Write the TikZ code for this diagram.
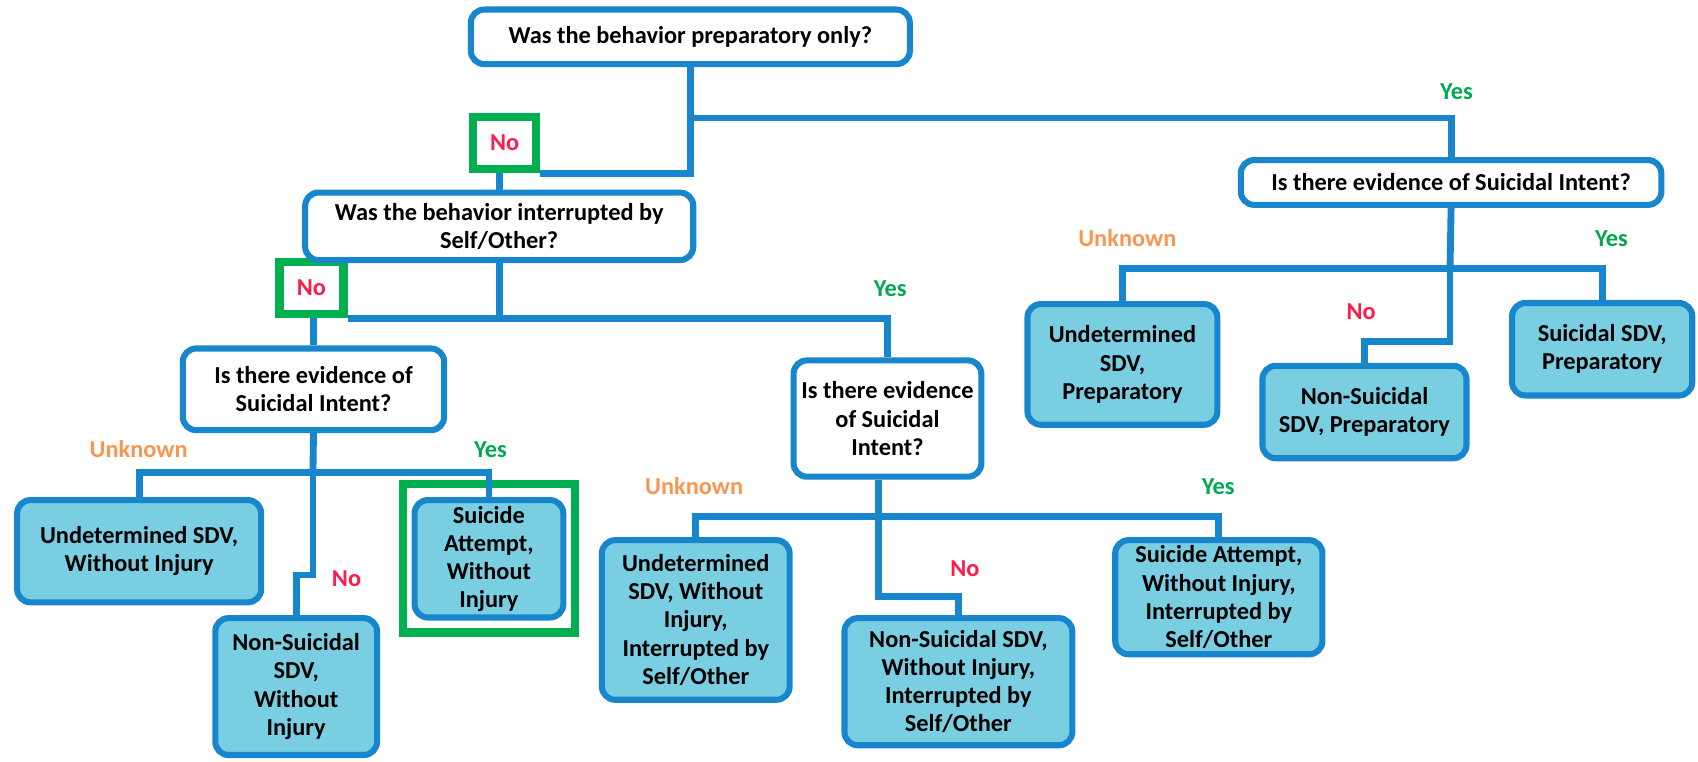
\documentclass[tikz,border=0pt]{standalone}
\usepackage{fontspec}
\setmainfont{Carlito}
\usetikzlibrary{shadows}
\definecolor{lineblue}{RGB}{24,134,204}
\definecolor{boxblue}{RGB}{122,206,226}
\definecolor{hlgreen}{RGB}{0,176,80}
\definecolor{nored}{RGB}{250,30,75}
\definecolor{yesgreen}{RGB}{0,168,80}
\definecolor{unkorange}{RGB}{247,150,80}
\tikzstyle{question}=[rectangle,rounded corners=7pt,draw=lineblue,line width=3.2pt,fill=white,align=center,inner sep=2pt,text=black,font=\bfseries\fontsize{12.8}{14.8}\selectfont]
\tikzstyle{outcome}=[question,fill=boxblue]
\tikzstyle{pick}=[rectangle,draw=hlgreen,line width=4.5pt,fill=white,drop shadow={opacity=0.2,shadow xshift=2pt,shadow yshift=-2pt}]
\tikzstyle{branch}=[draw=lineblue,line width=3.6pt]
\tikzstyle{answer}=[font=\bfseries\fontsize{12.8}{14}\selectfont]

\begin{document}
\begin{tikzpicture}[x=0.02cm,y=-0.02cm]
    \useasboundingbox (0,0) rectangle (1568,703);

    % Green marks on the chosen path
    \node[pick,minimum width=167*0.02cm-4.5pt,minimum height=145*0.02cm-4.5pt] (hiC) at (451.5,515.5) {};
    \node[pick,answer,text=nored,minimum width=66*0.02cm-4.5pt,minimum height=56*0.02cm-4.5pt] (noA) at (466,132) {No};
    \node[pick,answer,text=nored,minimum width=67*0.02cm-4.5pt,minimum height=56*0.02cm-4.5pt] (noB) at (287.5,266) {No};

    % First the questions
    \foreach \pos/ \name/ \w/ \h/ \txt in {{(637.5,34)/Q1/411/56/{Was the behavior preparatory only?}},
        {(461,209)/Q2/364/68/{Was the behavior interrupted by\\Self/Other?}},
        {(289.5,359.5)/Q3/247/81/{Is there evidence of\\Suicidal Intent?}},
        {(819.5,386.5)/Q4/179/113/{Is there evidence\\of Suicidal\\Intent?}},
        {(1340,168.5)/Q5/394/47/{Is there evidence of Suicidal Intent?}}}
        \node[question,minimum width=\w*0.02cm-3.2pt,minimum height=\h*0.02cm-3.2pt] (\name) at \pos {\txt};

    % Then the outcomes
    \foreach \pos/ \name/ \w/ \h/ \txt in {{(128.5,509)/L1/231/100/{Undetermined SDV,\\Without Injury}},
        {(273.5,634)/L2/155/132/{Non-Suicidal\\SDV,\\Without\\Injury}},
        {(451.5,516)/L3/143/114/{Suicide\\Attempt,\\Without\\Injury}},
        {(642.5,572.5)/L4/179/153/{Undetermined\\SDV, Without\\Injury,\\Interrupted by\\Self/Other}},
        {(885,629.5)/L5/216/123/{Non-Suicidal SDV,\\Without Injury,\\Interrupted by\\Self/Other}},
        {(1125.5,551.5)/L6/197/111/{Suicide Attempt,\\Without Injury,\\Interrupted by\\Self/Other}},
        {(1036.5,336.5)/L7/181/117/{Undetermined\\SDV,\\Preparatory}},
        {(1260,380.5)/L8/194/91/{Non-Suicidal\\SDV, Preparatory}},
        {(1479.5,322.5)/L9/172/91/{Suicidal SDV,\\Preparatory}}}
        \node[outcome,minimum width=\w*0.02cm-3.2pt,minimum height=\h*0.02cm-3.2pt] (\name) at \pos {\txt};

    % Junctions of the branches
    \coordinate (yes1) at (637,109);
    \coordinate (s3) at (289,436);
    \coordinate (n3) at (289,531);
    \coordinate (s4) at (811,477);
    \coordinate (n4) at (811,551);
    \coordinate (s5) at (1339,248);
    \coordinate (n5) at (1339,315);

    % Connect the boxes
    \draw[branch] (Q1.south) |- (noA.south east);
    \draw[branch] (yes1) -| (Q5.north);
    \draw[branch] (noA.south -| Q2.north) -- (Q2.north);
    \draw[branch] (Q2.south) -- (Q2.south |- noB.south);
    \draw[branch] (noB.south east) -| (Q4.north);
    \draw[branch] (noB.south -| Q3.north) -- (Q3.north);

    \draw[branch] (Q3.south) -- (s3);
    \draw[branch] (L1.north) |- (s3) -| (L3.north);
    \draw[branch] (s3) -- (n3) -| (L2.north);

    \draw[branch] (Q4.south -| s4) -- (s4);
    \draw[branch] (L4.north) |- (s4) -| (L6.north);
    \draw[branch] (s4) -- (n4) -| (L5.north);

    \draw[branch] (Q5.south) -- (s5);
    \draw[branch] (L7.north) |- (s5) -| (L9.north);
    \draw[branch] (s5) -- (n5) -| (L8.north);

    % Answer labels
    \foreach \pos/ \name/ \col/ \txt in {{(1345,85)/aY1/yesgreen/Yes}, {(822,267)/aY2/yesgreen/Yes},
        {(128,415)/aU3/unkorange/Unknown}, {(453,415)/aY3/yesgreen/Yes}, {(320,534)/aN3/nored/No},
        {(641,449)/aU4/unkorange/Unknown}, {(1125,449)/aY4/yesgreen/Yes}, {(891,525)/aN4/nored/No},
        {(1041,220)/aU5/unkorange/Unknown}, {(1488,220)/aY5/yesgreen/Yes}, {(1257,288)/aN5/nored/No}}
        \node[answer,text=\col] (\name) at \pos {\txt};
\end{tikzpicture}
\end{document}
